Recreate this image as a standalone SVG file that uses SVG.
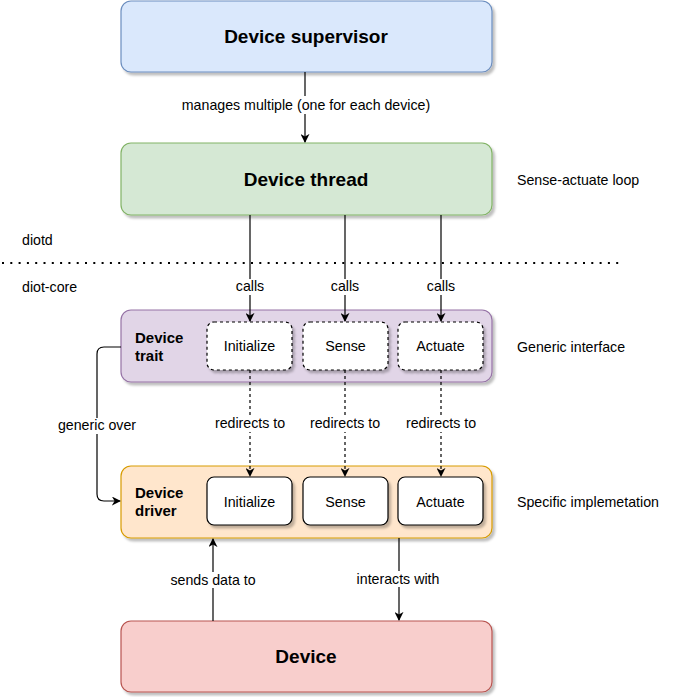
<svg xmlns="http://www.w3.org/2000/svg" width="681" height="697" viewBox="0 0 681 697">
<style>
text{font-family:"Liberation Sans",Arial,sans-serif;fill:#000}
.title{font-size:19px;font-weight:bold;text-anchor:middle}
.sub{font-size:15px;font-weight:bold}
.lbl{font-size:14.2px;text-anchor:middle}
.side{font-size:14.2px}
.inner{font-size:14.3px;text-anchor:middle}
.edge{fill:none;stroke:#000;stroke-width:1.2}
.dash{stroke-dasharray:3 3}
.bg{fill:#fff}
</style>
<defs>
<filter id="sh" x="-10%" y="-10%" width="130%" height="140%">
<feDropShadow dx="2.5" dy="3" stdDeviation="1.2" flood-color="#000" flood-opacity="0.25"/>
</filter>
<marker id="ah" viewBox="0 0 10 10" refX="9" refY="5" markerWidth="9" markerHeight="9" markerUnits="userSpaceOnUse" orient="auto">
<path d="M0,0 L10,5 L0,10 L3,5 Z" fill="#000"/>
</marker>
</defs>
<rect width="681" height="697" fill="#fff"/>

<g id="separator">
<line x1="2" y1="263" x2="620" y2="263" stroke="#000" stroke-width="2" stroke-dasharray="2 6.3"/>
<text class="side" x="22" y="245">diotd</text>
<text class="side" x="22" y="292">diot-core</text>
</g>

<g id="supervisor">
<rect x="121" y="1" width="371" height="71" rx="10" fill="#dae8fc" stroke="#6c8ebf" stroke-width="1.2" filter="url(#sh)"/>
<text class="title" x="306" y="43">Device supervisor</text>
</g>

<g id="thread">
<rect x="121" y="143" width="371" height="72" rx="10" fill="#d5e8d4" stroke="#82b366" stroke-width="1.2" filter="url(#sh)"/>
<text class="title" x="306" y="186">Device thread</text>
<text class="side" x="517" y="185">Sense-actuate loop</text>
</g>

<g id="trait">
<rect x="121" y="310" width="371" height="72" rx="10" fill="#e1d5e7" stroke="#9673a6" stroke-width="1.2" filter="url(#sh)"/>
<text class="sub" x="135" y="343">Device</text>
<text class="sub" x="135" y="361">trait</text>
<text class="side" x="517" y="352">Generic interface</text>
</g>
<g id="trait-initialize">
<rect x="207" y="322" width="85" height="48" rx="7" fill="#fff" stroke="#000" stroke-width="1.2" stroke-dasharray="3 3" filter="url(#sh)"/>
<text class="inner" x="249.5" y="351">Initialize</text>
</g>
<g id="trait-sense">
<rect x="303" y="322" width="85" height="48" rx="7" fill="#fff" stroke="#000" stroke-width="1.2" stroke-dasharray="3 3" filter="url(#sh)"/>
<text class="inner" x="345.5" y="351">Sense</text>
</g>
<g id="trait-actuate">
<rect x="398" y="322" width="85" height="48" rx="7" fill="#fff" stroke="#000" stroke-width="1.2" stroke-dasharray="3 3" filter="url(#sh)"/>
<text class="inner" x="440.5" y="351">Actuate</text>
</g>

<g id="driver">
<rect x="121" y="466" width="371" height="72" rx="10" fill="#ffe6cc" stroke="#d79b00" stroke-width="1.2" filter="url(#sh)"/>
<text class="sub" x="135" y="498">Device</text>
<text class="sub" x="135" y="516">driver</text>
<text class="side" x="517" y="507">Specific implemetation</text>
</g>
<g id="driver-initialize">
<rect x="207" y="477" width="85" height="48" rx="7" fill="#fff" stroke="#000" stroke-width="1.2" filter="url(#sh)"/>
<text class="inner" x="249.5" y="507">Initialize</text>
</g>
<g id="driver-sense">
<rect x="303" y="477" width="85" height="48" rx="7" fill="#fff" stroke="#000" stroke-width="1.2" filter="url(#sh)"/>
<text class="inner" x="345.5" y="507">Sense</text>
</g>
<g id="driver-actuate">
<rect x="398" y="477" width="85" height="48" rx="7" fill="#fff" stroke="#000" stroke-width="1.2" filter="url(#sh)"/>
<text class="inner" x="440.5" y="507">Actuate</text>
</g>

<g id="device">
<rect x="121" y="621" width="371" height="71" rx="10" fill="#f8cecc" stroke="#b85450" stroke-width="1.2" filter="url(#sh)"/>
<text class="title" x="306" y="663">Device</text>
</g>

<g id="connectors">
<path class="edge" d="M305,72 V142" marker-end="url(#ah)"/>
<rect class="bg" x="177" y="96" width="258" height="18"/>
<text class="lbl" x="306" y="110">manages multiple (one for each device)</text>

<path class="edge" d="M250,215 V321" marker-end="url(#ah)"/>
<path class="edge" d="M345,215 V321" marker-end="url(#ah)"/>
<path class="edge" d="M441,215 V321" marker-end="url(#ah)"/>
<rect class="bg" x="233" y="279" width="34" height="16"/>
<rect class="bg" x="328" y="279" width="34" height="16"/>
<rect class="bg" x="424" y="279" width="34" height="16"/>
<text class="lbl" x="250" y="291">calls</text>
<text class="lbl" x="345" y="291">calls</text>
<text class="lbl" x="441" y="291">calls</text>

<path class="edge dash" d="M250,370 V476" marker-end="url(#ah)"/>
<path class="edge dash" d="M345,370 V476" marker-end="url(#ah)"/>
<path class="edge dash" d="M441,370 V476" marker-end="url(#ah)"/>
<rect class="bg" x="214" y="416" width="72" height="16"/>
<rect class="bg" x="309" y="416" width="72" height="16"/>
<rect class="bg" x="405" y="416" width="72" height="16"/>
<text class="lbl" x="250" y="428">redirects to</text>
<text class="lbl" x="345" y="428">redirects to</text>
<text class="lbl" x="441" y="428">redirects to</text>

<path class="edge" d="M121,347 H104 Q97,347 97,354 V494 Q97,501 104,501 H120" marker-end="url(#ah)"/>
<rect class="bg" x="59" y="418" width="77" height="16"/>
<text class="lbl" x="97" y="430">generic over</text>

<path class="edge" d="M213,621 V539" marker-end="url(#ah)"/>
<rect class="bg" x="170" y="572" width="86" height="16"/>
<text class="lbl" x="213" y="585">sends data to</text>

<path class="edge" d="M399,538 V620" marker-end="url(#ah)"/>
<rect class="bg" x="358" y="571" width="82" height="16"/>
<text class="lbl" x="398" y="584">interacts with</text>
</g>
</svg>
